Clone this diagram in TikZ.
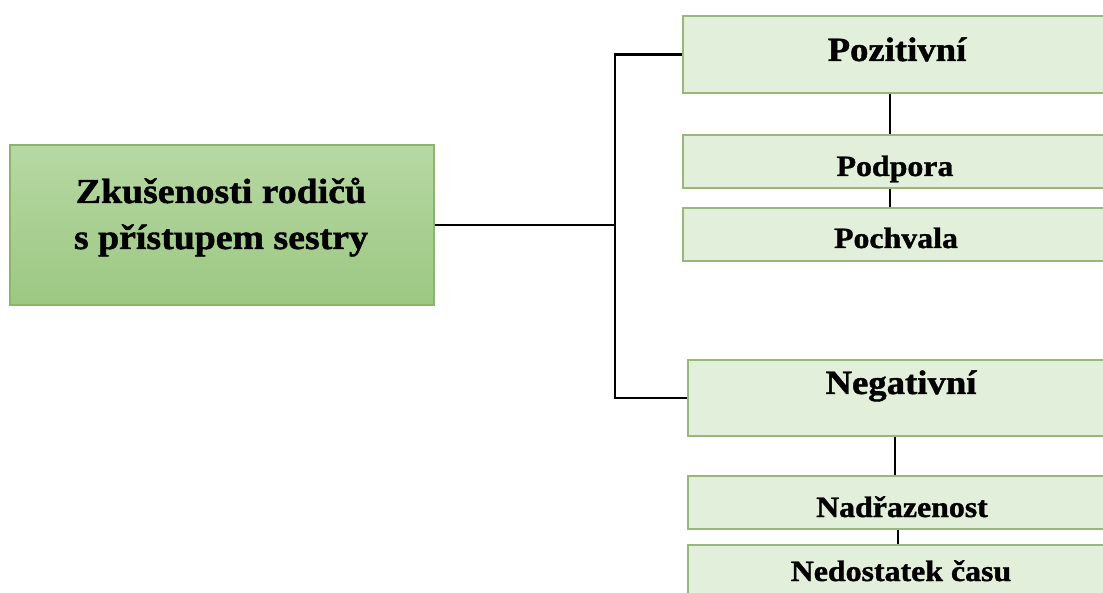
\documentclass[tikz,border=0pt]{standalone}
\usepackage{fontspec}
\setmainfont{Liberation Serif}[BoldFeatures={FakeBold=1.2}]
\definecolor{mainTop}{HTML}{B7D8A3}
\definecolor{mainBot}{HTML}{9CC882}
\definecolor{mainEdge}{HTML}{8CB46F}
\definecolor{subFill}{HTML}{E2EFDA}
\definecolor{subEdge}{HTML}{97B77E}
\newcommand{\wtext}[2]{\scalebox{1.08}[1]{\fontsize{#1}{#1}\selectfont\bfseries #2}}
\tikzset{
  boxmain/.style={rectangle, draw=mainEdge, line width=2pt, top color=mainTop, bottom color=mainBot, inner sep=0pt},
  boxsub/.style={rectangle, draw=subEdge, line width=2pt, fill=subFill, inner sep=0pt},
  link/.style={draw=black, line width=2.2pt},
  txtlabel/.style={anchor=base, inner sep=0pt, text=black},
}
\begin{document}
\begin{tikzpicture}[x=1pt, y=-1pt]
\useasboundingbox (0,0) rectangle (1103,593);
\clip (0,0) rectangle (1103,593);
\fill[white] (0,0) rectangle (1103,593);

% boxes
\node[boxmain, minimum width=424pt, minimum height=160pt] (main) at (222,225) {};
\node[boxsub, minimum width=447pt, minimum height=77pt] (poz) at (906.5,54.5) {};
\node[boxsub, minimum width=447pt, minimum height=53pt] (podp) at (906.5,161.5) {};
\node[boxsub, minimum width=447pt, minimum height=53pt] (poch) at (906.5,234.5) {};
\node[boxsub, minimum width=442pt, minimum height=76pt] (neg) at (909,398) {};
\node[boxsub, minimum width=442pt, minimum height=53pt] (nadr) at (909,502.5) {};
\node[boxsub, minimum width=442pt, minimum height=75pt] (ned) at (909,582.5) {};

% texts
\node[txtlabel] (tmain1) at (221,203) {\wtext{35}{Zkušenosti rodičů}};
\node[txtlabel] (tmain2) at (221,249) {\wtext{35}{s přístupem sestry}};
\node[txtlabel] (tpoz) at (897,61) {\wtext{34}{Pozitivní}};
\node[txtlabel] (tpodp) at (895,176) {\wtext{29.5}{Podpora}};
\node[txtlabel] (tpoch) at (896,248) {\wtext{29.5}{Pochvala}};
\node[txtlabel] (tneg) at (901,394) {\wtext{34}{Negativní}};
\node[txtlabel] (tnadr) at (902,517) {\wtext{29.5}{Nadřazenost}};
\node[txtlabel] (tned) at (901,581) {\wtext{29.5}{Nedostatek času}};

% connectors
\coordinate (jn) at (615,225);
\coordinate (px) at (890,0);
\coordinate (nx) at (895,0);
\coordinate (dx) at (898,0);
\draw[link] (main.east) -- (jn);
\draw[link] (jn) |- (poz.west);
\draw[link] (jn) |- (neg.west);
\draw[link] (poz.south -| px) -- (podp.north -| px);
\draw[link] (podp.south -| px) -- (poch.north -| px);
\draw[link] (neg.south -| nx) -- (nadr.north -| nx);
\draw[link] (nadr.south -| dx) -- (ned.north -| dx);
\end{tikzpicture}
\end{document}
